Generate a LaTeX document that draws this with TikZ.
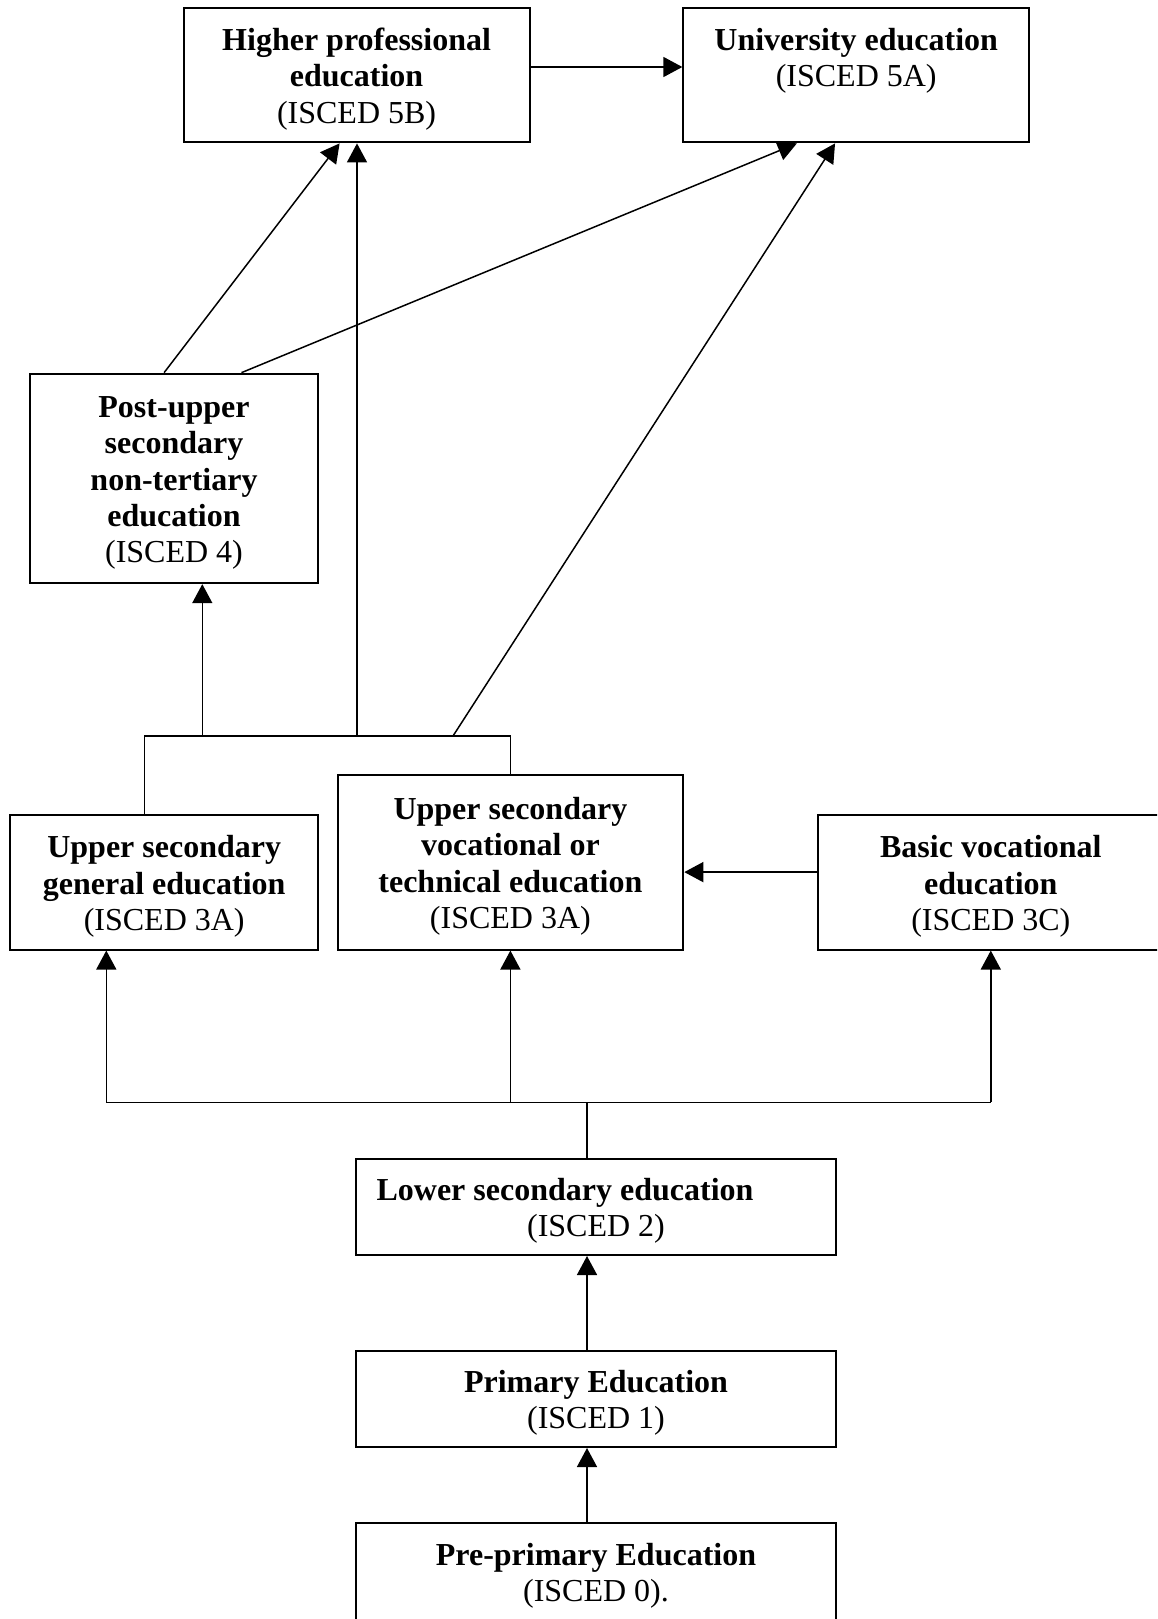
\documentclass[tikz,border=0pt]{standalone}
\usepackage{fontspec}
\setmainfont{Liberation Serif}
\usetikzlibrary{arrows.meta}
\newcommand{\toprl}{\rule{0pt}{30pt}}
\begin{document}
\begin{tikzpicture}[x=1pt,y=-1pt,
  box/.style={draw, line width=2pt, rectangle, inner sep=0pt, align=center,
    font=\fontsize{32}{36.3}\selectfont},
  conn/.style={line width=1.5pt},
  arr/.style={line width=1.5pt, -{Triangle[length=19pt,width=20pt]}}]
\useasboundingbox (0,0) rectangle (1157,1619);
\clip (0,0) rectangle (1157,1619);
% boxes
\node[box, minimum width=345.8pt, minimum height=134.1pt] (hpe) at (356.6,75.35)
  {\toprl\textbf{Higher professional}\\\textbf{education}\\(ISCED 5B)};
\node[box, minimum width=345.7pt, minimum height=134.1pt] (uni) at (856.2,75.35)
  {\toprl\textbf{University education}\\(ISCED 5A)\\\rule[-8pt]{0pt}{8pt}};
\node[box, minimum width=288pt, minimum height=209.5pt] (post) at (174,478.4)
  {\toprl\textbf{Post-upper}\\\textbf{secondary}\\\textbf{non-tertiary}\\\textbf{education}\\(ISCED 4)};
\node[box, minimum width=307.7pt, minimum height=134.1pt] (gen) at (164.2,882.5)
  {\toprl\textbf{Upper secondary}\\\textbf{general education}\\(ISCED 3A)};
\node[box, minimum width=345.8pt, minimum height=174.5pt] (voc) at (510.4,862.3)
  {\toprl\textbf{Upper secondary}\\\textbf{vocational or}\\\textbf{technical education}\\(ISCED 3A)};
\node[box, minimum width=346.5pt, minimum height=134.1pt] (basic) at (990.8,882.5)
  {\toprl\textbf{Basic vocational}\\\textbf{education}\\(ISCED 3C)};
\node[box, minimum width=480pt, minimum height=96pt] (lower) at (596,1207)
  {\toprl\textbf{Lower secondary education}\hspace*{62pt}\\(ISCED 2)};
\node[box, minimum width=480pt, minimum height=96pt] (primary) at (596,1399)
  {\toprl\textbf{Primary Education}\\(ISCED 1)};
\node[box, minimum width=480pt, minimum height=98pt] (pre) at (596,1572)
  {\toprl\textbf{Pre-primary Education}\\(ISCED 0).};
% top connectors
\draw[arr] ([yshift=8.35pt]hpe.east) -- ([yshift=8.35pt]uni.west);
\draw[arr] ([xshift=135.1pt]post.north west) -- ([xshift=156.9pt]hpe.south west);
\draw[arr] ([xshift=212.5pt]post.north west) -- ([xshift=114.5pt]uni.south west);
% bracket above upper secondary
\coordinate (brL) at (144.5,736);
\coordinate (brR) at (510.4,736);
\coordinate (p4) at (202.3,736);
\coordinate (p5b) at (357,736);
\coordinate (p5a) at (453,736);
\draw[conn] (brL |- gen.north) -- (brL) -- (brR) -- (voc.north);
\draw[arr] (p4) -- (p4 |- post.south);
\draw[arr] (p5b) -- (p5b |- hpe.south);
\draw[arr] (p5a) -- ([xshift=152.7pt]uni.south west);
% basic -> vocational
\draw[arr] ([yshift=10.4pt]basic.west) coordinate (bv) -- (bv -| voc.east);
% distribution from lower secondary
\coordinate (dj) at (587,1102.3);
\coordinate (dL) at (106.3,1102.3);
\coordinate (dR) at (990.8,1102.3);
\draw[conn] (dj |- lower.north) -- (dj);
\draw[conn] (dL) -- (dR);
\draw[arr] (dL) -- (dL |- gen.south);
\draw[arr] (voc.south |- dL) -- (voc.south);
\draw[arr] (dR) -- (dR |- basic.south);
% lower chain
\draw[arr] (dj |- primary.north) -- (dj |- lower.south);
\draw[arr] (dj |- pre.north) -- (dj |- primary.south);
\end{tikzpicture}
\end{document}
